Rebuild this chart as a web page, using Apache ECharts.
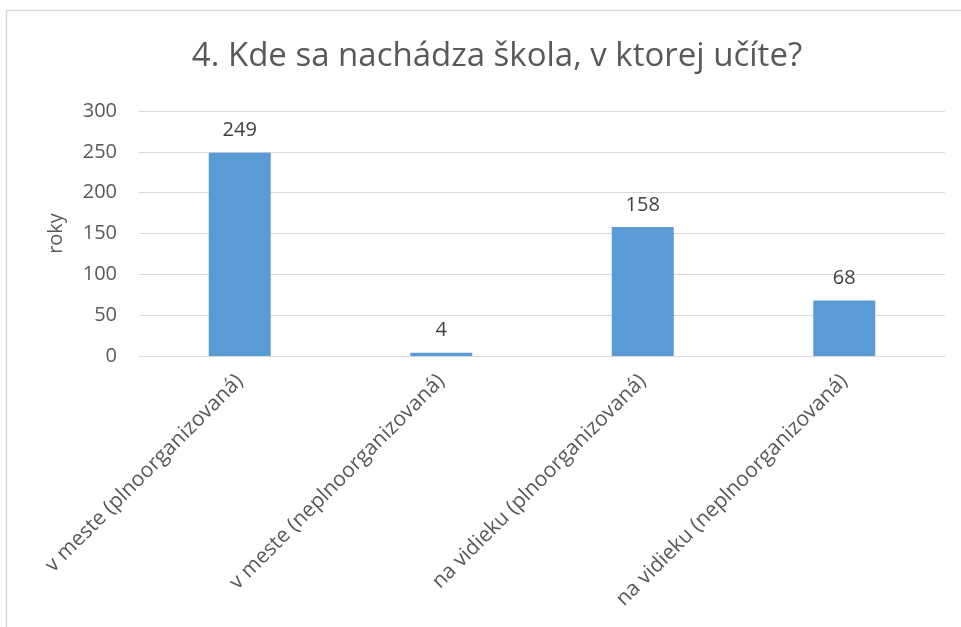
<!DOCTYPE html>
<html>
<head>
<meta charset="utf-8">
<script src="https://cdn.jsdelivr.net/npm/echarts@6/dist/echarts.min.js"></script>
<style>
  html, body { margin: 0; padding: 0; background: #fff; }
  #chart { width: 961px; height: 627px; }
</style>
</head>
<body>
<div id="chart"></div>
<script>
const categories = [
  'v meste (plnoorganizovaná)',
  'v meste (neplnoorganizovaná)',
  'na vidieku (plnoorganizovaná)',
  'na vidieku (neplnoorganizovaná)'
]
const values = [249, 4, 158, 68]

const font = '"Open Sans", "Noto Sans", sans-serif'
const myChart = echarts.init(document.getElementById('chart'))

const option = {
  backgroundColor: '#fff',
  graphic: [{
    type: 'rect',
    shape: { x: 6.5, y: 10.5, width: 1000, height: 700 },
    style: { fill: 'none', stroke: '#d9d9d9', lineWidth: 1.5 },
    silent: true
  }],
  title: {
    text: '4. Kde sa nachádza škola, v ktorej učíte?',
    left: 492,
    textAlign: 'center',
    top: 35,
    textStyle: {
      fontFamily: font,
      fontSize: 33,
      fontWeight: 'normal',
      color: '#595959'
    }
  },
  grid: {
    left: 139,
    right: 16,
    top: 111,
    bottom: 271,
    containLabel: false
  },
  xAxis: {
    type: 'category',
    data: categories,
    axisLine: { lineStyle: { color: '#d9d9d9', width: 1 } },
    axisTick: { show: false },
    axisLabel: {
      rotate: 45,
      interval: 0,
      margin: 22,
      fontFamily: font,
      fontSize: 21,
      color: '#595959'
    }
  },
  yAxis: {
    type: 'value',
    min: 0,
    max: 300,
    interval: 50,
    name: 'roky',
    nameLocation: 'middle',
    nameGap: 73,
    nameTextStyle: {
      fontFamily: font,
      fontSize: 20,
      color: '#595959'
    },
    axisLine: { show: false },
    axisTick: { show: false },
    splitLine: { lineStyle: { color: '#d9d9d9', width: 1 } },
    axisLabel: {
      margin: 22,
      fontFamily: font,
      fontSize: 20,
      color: '#595959'
    }
  },
  series: [{
    type: 'bar',
    data: values,
    barWidth: 62,
    itemStyle: { color: '#5b9bd5' },
    label: {
      show: true,
      position: 'top',
      distance: 12,
      fontFamily: font,
      fontSize: 20,
      color: '#404040'
    }
  }]
}
myChart.setOption(option)
</script>
</body>
</html>
